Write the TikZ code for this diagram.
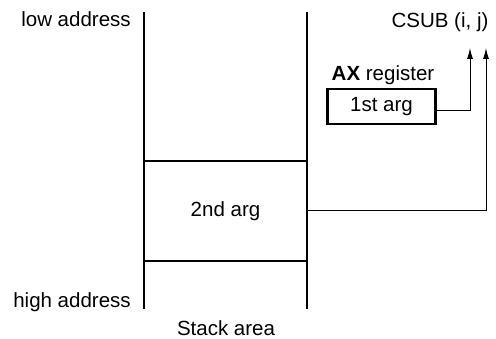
\documentclass[tikz,border=0pt]{standalone}
\usepackage{fontspec}
\setmainfont{Liberation Sans}
\usetikzlibrary{arrows.meta}
\begin{document}
\begin{tikzpicture}[x=1pt,y=-1pt,
  lbl/.style={font=\fontsize{20.5}{24}\selectfont, inner sep=0pt},
  thick line/.style={line width=2.5pt},
  conn/.style={line width=0.9pt},
  arr/.style={conn, -{Latex[length=11pt,width=6pt]}}]
\useasboundingbox (0,0) rectangle (496,339);
% stack walls
\coordinate (lt) at (144,12);
\coordinate (lb) at (144,309);
\coordinate (rt) at (307,12);
\coordinate (rb) at (307,309);
\draw[thick line] (lt) -- (lb);
\draw[thick line] (rt) -- (rb);
% 2nd arg cell
\node[lbl, minimum width=163pt, minimum height=100pt] (cell) at (225.5,211) {2nd arg};
\draw[thick line] (cell.north west) -- (cell.north east);
\draw[thick line] (cell.south west) -- (cell.south east);
% labels
\node[lbl, anchor=base] (low) at (76,27) {low address};
\node[lbl, anchor=base] (high) at (72,308) {high address};
\node[lbl, anchor=base] (stack) at (226,336) {Stack area};
\node[lbl, anchor=base] (csub) at (440,28) {CSUB (i, j)};
\node[lbl, anchor=base] (ax) at (383,81) {\textbf{AX} register};
% AX register box
\node[lbl, draw, line width=2.2pt, minimum width=108pt, minimum height=35pt] (arg1) at (381.5,106.5) {1st arg};
% arrows
\coordinate (itip) at (470,48);
\coordinate (jtip) at (486,48);
\coordinate (c1) at (470,110);
\coordinate (c2) at (486,210);
\draw[arr] (arg1.east |- c1) -- (c1) -- (itip);
\draw[arr] (cell.east |- c2) -- (c2) -- (jtip);
\end{tikzpicture}
\end{document}
